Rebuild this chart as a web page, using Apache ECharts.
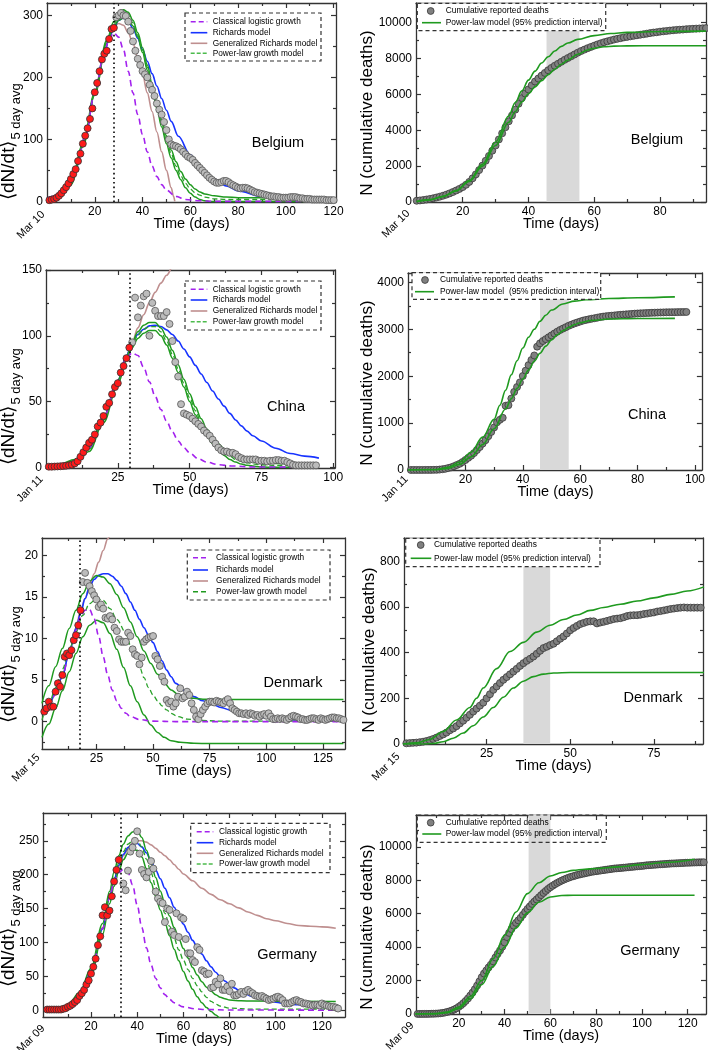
<!DOCTYPE html>
<html><head><meta charset="utf-8"><title>Epidemic growth models</title>
<script src="https://cdn.jsdelivr.net/npm/echarts@6.0.0/dist/echarts.min.js"></script>
<style>html,body{margin:0;padding:0;background:#fff;}#chart{width:708px;height:1050px;}</style>
</head><body><div id="chart"></div>
<script>
const FF = '"Liberation Sans", Arial, Helvetica, sans-serif';

// ================= DATA =================
// ---- Belgium (day 0 = Mar 10) ----
const belFitStart = 1;
const belFit = [2,3,4,6,9,13,18,23,29,36,44,52,65,77,93,106,118,133,150,176,191,210,229,238,243,262,278,280];
const belLaterStart = 29;
const belLater = [297,300,304,300,299,290,275,258,243,230,220,210,205,200,188,180,170,158,148,140,128,115,100,92,90,89,87,84,80,76,72,70,67,62,58,54,50,46,42,38,35,32,30,30,31,33,33,31,28,26,24,22,21,22,22,21,19,17,15,14,13,12,11,10,9,8,8,7,7,6,6,6,6,7,7,7,6,5,5,4,4,4,3,3,3,3,3,3,2,2,2,2];
const belLogistic = [[0,5],[4,9],[8,22],[12,50],[16,103],[20,175],[24,240],[26,262],[28,272],[30,265],[32,245],[34,210],[36,175],[38,140],[40,108],[42,80],[44,57],[46,40],[48,27],[50,18],[54,8],[58,3],[64,1],[70,0],[120,0]];
const belRichards = [[0,1],[4,7],[8,22],[12,52],[16,105],[20,176],[24,240],[26,262],[28,280],[30,292],[32,296],[34,291],[36,279],[38,263],[40,245],[42,226],[44,206],[46,186],[48,166],[50,147],[52,129],[55,105],[60,75],[65,52],[70,36],[75,25],[80,17],[90,8],[100,4],[110,2],[120,1]];
const belGenRichards = [[0,2],[4,7],[8,22],[12,52],[16,105],[20,176],[24,240],[26,265],[28,282],[30,287],[32,284],[34,272],[36,255],[38,232],[40,205],[42,175],[44,145],[46,112],[48,80],[50,50],[52,22],[53,8],[53.5,0]];
const belPowerLaw = [[0,1],[5,6],[10,28],[15,90],[20,174],[25,258],[28,286],[30,298],[32,303],[34,300],[36,288],[38,268],[40,244],[42,216],[44,185],[46,155],[48,126],[50,100],[52,77],[54,57],[56,41],[58,29],[60,20],[62,14],[64,10],[66,7],[70,4],[75,3],[80,3],[120,3]];
const belPowerUpper = [[0,2],[5,7],[10,30],[15,92],[20,176],[25,260],[28,290],[30,304],[32,309],[34,305],[36,292],[38,272],[40,248],[42,220],[44,190],[46,160],[48,132],[50,106],[52,83],[54,64],[56,48],[58,36],[60,27],[62,20],[64,15],[66,12],[70,9],[75,7],[80,6],[120,6]];
const belPowerLower = [[0,0],[5,5],[10,27],[15,88],[20,172],[25,255],[28,282],[30,292],[32,296],[34,294],[36,283],[38,265],[40,240],[42,212],[44,180],[46,150],[48,120],[50,93],[52,70],[54,50],[56,35],[58,22],[60,13],[62,7],[64,3],[66,1],[68,0],[120,0]];
const belCumStart = 6;
const belCum = [70,88,110,138,170,205,250,295,350,410,480,555,640,730,830,960,1120,1320,1540,1780,2030,2300,2570,2860,3150,3490,3830,4170,4500,4830,5150,5480,5800,6050,6280,6510,6720,6890,7050,7200,7350,7480,7600,7710,7820,7930,8030,8130,8230,8330,8420,8500,8580,8650,8720,8790,8850,8910,8960,9010,9060,9100,9140,9180,9210,9240,9270,9300,9330,9360,9390,9420,9450,9470,9500,9520,9540,9560,9580,9600,9610,9620,9640,9650,9660,9670,9680,9690,9700];
const belCumUpper = [[6,30],[10,140],[14,320],[18,640],[22,1200],[26,2100],[30,3350],[34,4800],[36,5550],[38,6200],[40,6800],[42,7300],[44,7750],[46,8100],[48,8420],[50,8680],[52,8870],[55,9070],[60,9280],[65,9400],[70,9460],[80,9510],[94,9530]];
const belCumLower = [[6,20],[10,120],[14,300],[18,610],[22,1150],[26,2000],[30,3150],[34,4450],[36,5050],[38,5580],[40,6040],[42,6420],[44,6770],[46,7100],[48,7400],[50,7680],[52,7920],[55,8240],[58,8480],[60,8580],[63,8660],[66,8695],[70,8710],[80,8715],[94,8715]];

// ---- China (day 0 = Jan 11) ----
const chnFitStart = 1;
const chnFit = [0.5,0.5,0.6,0.7,0.8,1,1.2,1.5,2,3,4.6,8,11.5,15,18.6,21,25,31,34,39,46,49,55.5,61,64,72,77,83,91];
const chnLaterStart = 30;
const chnLater = [95,129,114,123,130,132,100,125,119,115,115,115,118,109,96,80,69,48,41,40,39,37,35,33,31,28,26,24,21,18,15,13,12,12,11,11,10,8,7,6,6,6,6,6,5,5,5,4.5,5,5,5.5,5.5,5,5,4,3,2,1.5,1.5,1.5,1.5,1.5,1.5,1.5,1.5];
const chnLogistic = [[0,0.3],[5,1],[10,4],[15,15],[20,38],[25,66],[28,83],[30,87],[32,85],[34,76],[36,65],[38,54],[40,44],[42,35],[44,27],[46,20],[48,15],[50,11],[53,6.5],[56,4],[60,2],[65,1],[72,0.3],[95,0]];
const chnRichards = [[0,1],[5,2],[10,4.5],[15,15],[20,38],[25,66],[28,85],[30,95],[32,101],[34,105],[36,107.5],[38,108],[40,107],[42,104.5],[44,101],[46,96],[48,90],[50,84],[52,77.5],[54,71],[56,64.5],[58,58],[60,52],[62,46.5],[64,41],[66,36],[68,31.5],[70,27.5],[72,24],[75,20],[80,14.5],[85,10.5],[90,8.5],[95,7]];
const chnGenRichards = [[0,0.5],[5,1],[10,4],[15,15],[20,38],[25,66],[28,84],[30,95],[32,106],[34,116],[36,125],[38,133],[40,140],[42,146],[44,152],[46,157]];
const chnPowerLaw = [[0,1],[5,1.8],[10,4.5],[15,14],[20,36],[25,64.5],[28,82.5],[30,93],[32,100.5],[34,105],[36,107],[38,107],[40,103],[42,96],[44,86],[46,75],[48,64],[50,53],[52,43],[54,34],[56,26.5],[58,20.5],[60,15.5],[62,11.5],[64,8.5],[66,6],[68,4.5],[70,3.5],[74,2],[80,1.5],[94,1]];
const chnPowerUpper = [[0,1.5],[5,2.5],[10,6],[15,16],[20,38],[25,66],[28,84],[30,95],[32,103],[34,108],[36,110],[38,110],[40,106],[42,99],[44,89],[46,78],[48,67],[50,56],[52,46],[54,37],[56,29],[58,23],[60,18],[62,14],[64,11],[66,8.5],[68,7],[70,5.5],[74,4],[80,3],[94,2.5]];
const chnPowerLower = [[0,0.5],[5,1],[10,3],[15,12],[20,34],[25,63],[28,81],[30,91],[32,98],[34,102],[36,104],[38,104],[40,100],[42,93],[44,83],[46,72],[48,61],[50,50],[52,40],[54,31],[56,24],[58,18],[60,13],[62,9],[64,6],[66,4],[68,2.5],[70,1.5],[74,0.5],[78,0],[94,0]];
const chnCumStart = 1;
const chnCum = [1,1,1,1,1,2,2,2,3,4,9,17,25,41,56,80,106,132,170,213,259,304,361,425,490,563,636,722,811,908,1016,1070,1113,1370,1383,1523,1665,1770,1868,2004,2118,2236,2345,2442,2630,2700,2750,2790,2830,2870,2910,2950,2985,3015,3045,3075,3100,3125,3145,3165,3185,3200,3212,3225,3236,3248,3260,3270,3278,3285,3290,3296,3302,3308,3313,3318,3323,3328,3333,3337,3340,3343,3346,3349,3352,3354,3356,3358,3360,3362,3363,3364,3365,3366,3367,3368,3369];
const chnCumUpper = [[0,0],[10,10],[14,60],[18,170],[22,380],[26,700],[30,1080],[32,1380],[34,1700],[36,2030],[38,2330],[40,2600],[42,2830],[44,3000],[46,3170],[48,3300],[50,3410],[54,3540],[58,3600],[62,3630],[70,3655],[80,3672],[93,3690]];
const chnCumLower = [[0,0],[10,5],[14,35],[18,120],[22,280],[26,540],[30,880],[34,1300],[36,1520],[38,1740],[40,1940],[42,2130],[44,2320],[46,2490],[48,2640],[50,2770],[52,2880],[54,2970],[56,3040],[58,3100],[60,3140],[64,3190],[70,3220],[80,3230],[93,3232]];

// ---- Denmark (day 0 = Mar 15) ----
const dnkFitStart = 2;
const dnkFit = [1.2,1.6,2.4,1.8,1.8,3.6,4.6,4.2,5.6,7.8,8.2,8.0,8.6,9.8,10.4,11.6,13.4];
const dnkLaterStart = 19;
const dnkLater = [16.8,17.9,16.7,16.3,15.7,15.2,14.7,13.8,14.1,13.6,12.5,12.4,12.7,12.3,11.3,10.9,9.9,9.6,9.6,9.6,10.7,10.3,8.7,8.1,7.9,6.9,7.7,9.6,9.9,10.1,10.2,10.3,7.9,7.5,6.7,5.4,4.8,2.6,2.2,2.4,1.8,2.2,3.0,4.0,2.8,3.0,3.6,3.2,2.2,1.4,0.6,0.3,0.9,1.4,1.8,2.2,2.4,2.4,2.3,2.5,2.4,2.3,2.2,2.5,2.7,2.2,1.6,1.4,1.2,1.0,1.0,0.9,1.0,0.8,1.0,0.9,0.7,0.8,0.6,0.8,0.9,0.7,1.0,0.6,0.3,0.3,0.4,0.3,0.4,0.3,0.2,0.4,0.6,0.7,0.6,0.5,0.3,0.3,0.2,0.2,0.3,0.4,0.4,0.3,0.2,0.4,0.3,0.2,0.3,0.4,0.5,0.5,0.4,0.4,0.3,0.2];
const dnkLogistic = [[1,1.0],[4,1.9],[7,3.3],[10,5.4],[13,8.2],[16,11.0],[18,12.6],[20,13.4],[22,13.5],[24,12.4],[26,10.3],[28,7.8],[30,5.6],[32,3.8],[34,2.5],[36,1.6],[38,1.0],[40,0.6],[44,0.25],[50,0.05],[60,0],[134,0]];
const dnkRichards = [[1,1.2],[4,2.0],[7,3.5],[10,5.5],[13,8.3],[16,11.2],[18,13.0],[20,14.8],[22,16.2],[24,17.1],[26,17.6],[28,17.8],[30,17.8],[32,17.5],[34,17.0],[36,16.3],[38,15.4],[40,14.4],[42,13.4],[44,12.3],[46,11.3],[48,10.4],[50,9.5],[52,8.4],[54,7.3],[56,6.2],[58,5.4],[60,4.6],[64,3.7],[68,3.0],[72,2.5],[76,2.1],[80,1.7],[85,1.3],[90,0.9],[95,0.6],[105,0.3],[120,0.1],[134,0.05]];
const dnkGenRichards = [[1,1.0],[4,1.9],[7,3.4],[10,5.5],[13,8.3],[16,11.3],[18,13.4],[20,14.8],[22,16.3],[24,17.8],[26,19.2],[28,20.6],[30,22.0],[32,23.4]];
const dnkPowerLaw = [[1,0.2],[4,2.0],[7,4.1],[10,6.3],[13,8.6],[16,10.8],[19,12.8],[22,14.2],[25,14.8],[28,14.6],[31,13.6],[34,12.3],[38,10.7],[40,9.2],[42,7.9],[44,6.6],[46,5.3],[48,4.1],[50,3.2],[52,2.5],[54,1.9],[56,1.4],[58,1.0],[61,0.6],[65,0.3],[70,0.15],[80,0.05],[134,0.05]];
const dnkPowerUpper = [[1,2.2],[4,4.3],[7,6.6],[10,8.8],[13,11.2],[16,13.4],[19,15.4],[22,16.9],[25,17.6],[28,17.4],[31,16.6],[34,15.3],[37,13.7],[40,12.0],[43,10.2],[46,8.5],[49,7.0],[52,5.7],[55,4.6],[58,3.8],[61,3.3],[64,3.0],[68,2.8],[72,2.7],[80,2.65],[134,2.65]];
const dnkPowerLower = [[1,-1.9],[4,-0.3],[7,1.6],[10,3.7],[13,6.0],[16,8.2],[19,10.2],[22,11.6],[25,12.2],[28,11.9],[31,10.6],[34,8.7],[37,6.5],[40,4.3],[43,2.4],[46,0.8],[49,-0.4],[52,-1.3],[55,-1.9],[58,-2.3],[62,-2.5],[68,-2.62],[75,-2.65],[134,-2.65]];
const dnkCumStart = 0;
const dnkCum = [2,3,4,5,6,8,10,13,17,22,28,35,42,50,60,68,78,90,102,115,128,142,155,168,181,200,218,237,252,267,281,293,305,317,329,342,354,364,373,383,395,408,420,426,433,439,450,461,471,484,498,508,517,525,530,535,537,537,528,532,535,539,543,547,549,551,555,560,563,564,564,566,569,571,574,576,580,582,585,588,591,593,595,597,598,597,597,597,597,597];
const dnkCumUpper = [[0,0],[4,5],[8,20],[12,55],[16,105],[20,160],[22,200],[24,245],[28,330],[32,405],[36,445],[40,490],[44,520],[48,545],[52,565],[56,585],[60,598],[65,612],[70,626],[75,640],[80,655],[85,670],[90,688]];
const dnkCumLower = [[0,0],[6,0],[9,2],[12,10],[15,25],[18,48],[21,80],[24,118],[27,160],[30,205],[33,245],[36,275],[39,295],[42,306],[45,311],[50,313],[60,313],[90,313]];

// ---- Germany (day 0 = Mar 09) ----
const deuFitStart = 1;
const deuFit = [1,1,1,1,1,1,1,2,3,5,6.5,9,12,15,21,25,30,38,44,54,64,76,96,109,140,152,140,147,168,190,207,222];
const deuLaterStart = 34;
const deuLater = [187,177,206,234,240,250,264,231,207,201,196,204,220,209,175,165,160,158,130,150,148,116,111,143,108,137,135,105,84,84,74,71,93,89,59,57,53,54,33,34,42,38,47,30,30,35,28,39,22,22,24,27,24,28,30,27,25,22,21,20,21,19,17,15,16,17,19,20,18,15,10,10,10,12,14,15,13,12,10,10,9,8,7,8,8,7,10,8,7,6,5,5,4,2.5];
const deuLogistic = [[0,1],[5,2],[10,6],[15,22],[20,55],[25,120],[28,165],[30,190],[32,203],[34,208],[36,204],[38,185],[40,155],[42,122],[44,92],[46,67],[48,47],[50,33],[52,23],[54,16],[56,11],[60,5],[65,2],[70,1],[80,0.3],[125,0]];
const deuRichards = [[0,1],[5,2],[10,7],[15,23],[20,56],[25,120],[28,166],[30,192],[32,214],[34,230],[36,240],[38,245],[40,246],[42,241],[44,232],[46,220],[48,207],[50,194],[52,180],[54,166],[56,152],[58,139],[60,127],[62,115],[64,103],[66,93],[68,83],[70,73],[72,64],[74,56],[76,49],[78,43],[80,38],[82,33],[85,27],[90,20],[95,15],[100,12],[105,9],[110,8],[115,6],[120,5],[125,4]];
const deuGenRichards = [[0,1],[5,2],[10,7],[15,23],[20,56],[25,122],[28,168],[30,192],[32,212],[34,228],[36,240],[38,247],[40,250],[42,250],[44,248],[46,244],[48,239],[50,233],[52,228],[54,222],[56,215],[58,208],[60,201],[64,191],[68,180],[72,171],[76,163],[80,157],[84,151],[88,145],[92,140],[96,135],[100,132],[105,128],[110,125],[115,124],[120,123],[126,121]];
const deuPowerLaw = [[0,0.5],[5,1.5],[10,6.5],[15,23],[20,57],[25,120],[28,166],[30,194],[32,217],[34,234],[36,245],[38,250],[40,251],[42,241],[44,223],[46,203],[48,182],[50,162],[52,143],[54,124],[56,106],[58,89],[60,74],[62,60],[64,47],[66,36],[68,27],[70,19],[72,13],[74,9],[76,6],[80,3],[90,1.5],[126,1.5]];
const deuPowerUpper = [[0,1],[5,2],[10,8],[15,26],[20,62],[25,128],[28,175],[30,204],[32,228],[34,245],[36,257],[38,263],[40,265],[42,255],[44,236],[46,217],[48,196],[50,176],[52,157],[54,139],[56,122],[58,106],[60,91],[62,77],[64,63],[66,52],[68,42],[70,34],[72,28],[74,23],[76,19],[78,17],[80,15],[85,14],[90,13.5],[126,13]];
const deuPowerLower = [[0,0],[5,1],[10,5],[15,20],[20,52],[25,112],[28,157],[30,183],[32,205],[34,222],[36,232],[38,237],[40,236],[42,226],[44,209],[46,188],[48,168],[50,148],[52,129],[54,110],[56,90],[58,73],[60,57],[62,43],[64,31],[66,20],[68,11],[70,4],[72,-2],[74,-7],[76,-12],[78,-16]];
const deuCumStart = 1;
const deuCum = [2,2,3,3,5,6,9,12,16,24,30,45,65,90,125,160,210,270,340,430,530,650,780,930,1100,1280,1480,1700,1950,2200,2420,2600,2780,2950,3150,3380,3600,3800,4020,4280,4600,4850,5080,5280,5450,5600,5750,5930,6110,6280,6430,6580,6720,6850,6980,7110,7240,7360,7480,7580,7670,7760,7840,7910,7980,8040,8100,8150,8200,8240,8280,8320,8350,8380,8410,8440,8470,8500,8520,8540,8560,8580,8600,8620,8640,8660,8680,8700,8710,8720,8735,8750,8760,8775,8790,8800,8815,8830,8840,8855,8870,8890,8900,8910,8920,8930,8940,8950,8960,8970,8980,8990,9000,9005,9010,9020,9025,9030,9040,9045,9050,9055,9060,9065,9070,9070,9075];
const deuCumUpper = [[1,0],[10,20],[15,120],[20,420],[25,1050],[30,2000],[35,3300],[40,4700],[45,6100],[50,7200],[55,7850],[60,8250],[65,8460],[70,8590],[75,8660],[80,8700],[90,8800],[100,8930],[110,9060],[123,9250]];
const deuCumLower = [[1,0],[10,10],[15,80],[20,330],[25,900],[30,1750],[35,2850],[40,4000],[45,5150],[50,6050],[55,6680],[60,7000],[65,7090],[70,7100],[123,7100]];

// fit-window end (dotted line) and forecast window (grey band), days
const fitEndDays = [28, 29, 17.7, 32.7];
const bandRanges = [[45.5, 55.5], [46, 56], [36, 44], [50.5, 60]];

// tick labels
const tickSets = [
  {xM:[20,40,60,80,100,120], xm:[10,30,50,70,90,110], yM:[0,100,200,300], ym:[50,150,250]},
  {xM:[20,40,60,80], xm:[10,30,50,70,90], yM:[0,2000,4000,6000,8000,10000], ym:[1000,3000,5000,7000,9000]},
  {xM:[25,50,75,100], xm:[12.5,37.5,62.5,87.5], yM:[0,50,100,150], ym:[25,75,125]},
  {xM:[20,40,60,80,100], xm:[10,30,50,70,90], yM:[0,1000,2000,3000,4000], ym:[500,1500,2500,3500]},
  {xM:[25,50,75,100,125], xm:[12.5,37.5,62.5,87.5,112.5], yM:[0,5,10,15,20], ym:[-2.5,2.5,7.5,12.5,17.5]},
  {xM:[25,50,75], xm:[12.5,37.5,62.5,87.5], yM:[0,200,400,600,800], ym:[100,300,500,700]},
  {xM:[20,40,60,80,100,120], xm:[10,30,50,70,90,110], yM:[0,50,100,150,200,250], ym:[25,75,125,175,225,275]},
  {xM:[20,40,60,80,100,120], xm:[10,30,50,70,90,110], yM:[0,2000,4000,6000,8000,10000], ym:[1000,3000,5000,7000,9000,11000]}
];
const countries = ['Belgium','China','Denmark','Germany'];
const startDates = ['Mar 10','Jan 11','Mar 15','Mar 09'];
const leftLegend = ['Classical logistic growth','Richards model','Generalized Richards model','Power-law growth model'];
const rightLegend = ['Cumulative reported deaths','Power-law model (95% prediction interval)'];

// ================= LAYOUT =================
const layout = [
  {left:47, top:3, width:289, height:199, xr:[0,121], yr:[-1,320]},
  {left:416, top:3, width:290, height:199, xr:[5.8,94], yr:[0,11100]},
  {left:46, top:270, width:289, height:198, xr:[0,100.6], yr:[-0.5,150]},
  {left:408, top:273, width:295, height:197, xr:[0,102.4], yr:[0,4200]},
  {left:42, top:538, width:303, height:211, xr:[1,134.7], yr:[-3.3,22.1]},
  {left:404, top:538, width:299, height:206, xr:[0.3,89.7], yr:[0,902]},
  {left:43, top:813, width:302, height:204, xr:[-0.8,130], yr:[-10,291]},
  {left:416, top:815, width:290, height:199, xr:[1.3,128], yr:[0,11900]}
];

const COL = {purple:'#a322ee', blue:'#1733ff', rosy:'#bf8f8f', green:'#1f9a1f', greenDash:'#2aa12a',
  greenLeg:'#4cbb4c', red:'#ff1a1a', grey:'#bcbcbc', greyEdge:'#555', cum:'#808080', cumEdge:'#383838',
  band:'#d9d9d9', axis:'#333'};

const daily = (start, vals) => vals.map((v, i) => [start + i, v]);
const plain = v => String(v);

const grids = [], xAxes = [], yAxes = [], series = [];
layout.forEach((L, i) => {
  grids.push({left:L.left, top:L.top, width:L.width, height:L.height, containLabel:false});
  const T = tickSets[i];
  const lineSt = {color:COL.axis, width:1.3};
  const tickSt = {color:COL.axis, width:1.2};
  const bx = {type:'value', gridIndex:i, min:L.xr[0], max:L.xr[1], splitLine:{show:false}};
  const by = {type:'value', gridIndex:i, min:L.yr[0], max:L.yr[1], splitLine:{show:false}};
  const lab = {fontSize:12, fontFamily:FF, color:'#000', formatter:plain};
  const hiddenLine = {show:false, onZero:false};
  const shownLine = {show:true, onZero:false, lineStyle:lineSt};
  xAxes.push(Object.assign({}, bx, {position:'bottom', axisLine:shownLine,
    axisTick:{show:true, inside:true, length:5, customValues:T.xM, lineStyle:tickSt},
    axisLabel:Object.assign({show:true, customValues:T.xM, margin:4}, lab)}));
  xAxes.push(Object.assign({}, bx, {position:'bottom', axisLine:hiddenLine,
    axisTick:{show:true, inside:true, length:3, customValues:T.xm, lineStyle:tickSt}, axisLabel:{show:false}}));
  xAxes.push(Object.assign({}, bx, {position:'top', axisLine:shownLine,
    axisTick:{show:true, inside:true, length:5, customValues:T.xM, lineStyle:tickSt}, axisLabel:{show:false}}));
  xAxes.push(Object.assign({}, bx, {position:'top', axisLine:hiddenLine,
    axisTick:{show:true, inside:true, length:3, customValues:T.xm, lineStyle:tickSt}, axisLabel:{show:false}}));
  yAxes.push(Object.assign({}, by, {position:'left', axisLine:shownLine,
    axisTick:{show:true, inside:true, length:5, customValues:T.yM, lineStyle:tickSt},
    axisLabel:Object.assign({show:true, customValues:T.yM, margin:4}, lab)}));
  yAxes.push(Object.assign({}, by, {position:'left', axisLine:hiddenLine,
    axisTick:{show:true, inside:true, length:3, customValues:T.ym, lineStyle:tickSt}, axisLabel:{show:false}}));
  yAxes.push(Object.assign({}, by, {position:'right', axisLine:shownLine,
    axisTick:{show:true, inside:true, length:5, customValues:T.yM, lineStyle:tickSt}, axisLabel:{show:false}}));
  yAxes.push(Object.assign({}, by, {position:'right', axisLine:hiddenLine,
    axisTick:{show:true, inside:true, length:3, customValues:T.ym, lineStyle:tickSt}, axisLabel:{show:false}}));
});

function lineS(p, data, color, width, type, z) {
  return {type:'line', xAxisIndex:4*p, yAxisIndex:4*p, data, symbol:'none', showSymbol:false,
    smooth:0.35, smoothMonotone:'x', clip:true, silent:true, z:z || 2,
    lineStyle:{color, width, type:type || 'solid'}};
}
function dotS(p, data, fill, edge, z) {
  return {type:'scatter', xAxisIndex:4*p, yAxisIndex:4*p, data, symbol:'circle', symbolSize:7, clip:true,
    silent:true, z, itemStyle:{color:fill, borderColor:edge, borderWidth:0.8, opacity:1}};
}

const panelSets = [
  {fit:daily(belFitStart, belFit), later:daily(belLaterStart, belLater), lo:belLogistic, ri:belRichards, gr:belGenRichards,
   pl:belPowerLaw, up:belPowerUpper, dn:belPowerLower, cum:daily(belCumStart, belCum), cu:belCumUpper, cl:belCumLower},
  {fit:daily(chnFitStart, chnFit), later:daily(chnLaterStart, chnLater), lo:chnLogistic, ri:chnRichards, gr:chnGenRichards,
   pl:chnPowerLaw, up:chnPowerUpper, dn:chnPowerLower, cum:daily(chnCumStart, chnCum), cu:chnCumUpper, cl:chnCumLower},
  {fit:daily(dnkFitStart, dnkFit), later:daily(dnkLaterStart, dnkLater), lo:dnkLogistic, ri:dnkRichards, gr:dnkGenRichards,
   pl:dnkPowerLaw, up:dnkPowerUpper, dn:dnkPowerLower, cum:daily(dnkCumStart, dnkCum), cu:dnkCumUpper, cl:dnkCumLower},
  {fit:daily(deuFitStart, deuFit), later:daily(deuLaterStart, deuLater), lo:deuLogistic, ri:deuRichards, gr:deuGenRichards,
   pl:deuPowerLaw, up:deuPowerUpper, dn:deuPowerLower, cum:daily(deuCumStart, deuCum), cu:deuCumUpper, cl:deuCumLower}
];

panelSets.forEach((D, k) => {
  const pl = 2*k, pr = 2*k + 1;
  // left panel: daily deaths and models
  series.push(lineS(pl, D.gr, COL.rosy, 1.6));
  series.push(lineS(pl, D.ri, COL.blue, 1.6));
  series.push(lineS(pl, D.up, COL.green, 1.5));
  series.push(lineS(pl, D.dn, COL.green, 1.5));
  series.push(lineS(pl, D.pl, COL.greenDash, 1.3, [5,3]));
  series.push(lineS(pl, D.lo, COL.purple, 1.6, [6,4]));
  series.push(dotS(pl, D.later, COL.grey, COL.greyEdge, 4));
  const fitDots = dotS(pl, D.fit, COL.red, '#333', 5);
  fitDots.markLine = {silent:true, symbol:['none','none'], label:{show:false}, animation:false,
    lineStyle:{color:'#000', width:1.6, type:[1.6,3]}, data:[{xAxis:fitEndDays[k]}]};
  series.push(fitDots);
  // right panel: cumulative deaths
  const cumDots = dotS(pr, D.cum, COL.cum, COL.cumEdge, 2);
  cumDots.markArea = {silent:true, itemStyle:{color:COL.band}, label:{show:false},
    data:[[{xAxis:bandRanges[k][0]}, {xAxis:bandRanges[k][1]}]]};
  series.push(cumDots);
  series.push(lineS(pr, D.cu, COL.green, 1.6, 'solid', 3));
  series.push(lineS(pr, D.cl, COL.green, 1.6, 'solid', 3));
});

// ================= TEXT / LEGENDS (graphic) =================
const gfx = [];
function txt(x, y, text, size, align, rot) {
  gfx.push({type:'text', x, y, z:100, rotation:rot || 0, silent:true,
    style:{text, fontSize:size, fontFamily:FF, fill:'#000', align:align || 'center', verticalAlign:'middle'}});
}
function box(x, y, w, h, fill) {
  gfx.push({type:'rect', z:99, silent:true, shape:{x, y, width:w, height:h},
    style:{fill, stroke:'#333', lineWidth:1.2, lineDash:[4,3]}});
}
function seg(x1, x2, y, color, w, dash) {
  gfx.push({type:'line', z:101, silent:true, shape:{x1, y1:y, x2, y2:y},
    style:{stroke:color, lineWidth:w, lineDash:dash || null}});
}
function dot(cx, cy) {
  gfx.push({type:'circle', z:101, silent:true, shape:{cx, cy, r:3.4},
    style:{fill:COL.cum, stroke:COL.cumEdge, lineWidth:0.8}});
}

const yTitleLeft = [[11,200],[11,465],[11,723],[11,987]];
const yTitleRight = [[367,113],[367,383],[369,650],[367,927]];
const countryPos = [[278,143],[657,140],[286,407],[647,415],[293,683],[653,698],[287,955],[650,951]];
const datePos = [[31,225],[396,224],[30,489],[395,489],[26,768],[386,767],[31,1039],[400,1036]];
layout.forEach((L, i) => {
  txt(L.left + L.width/2, L.top + L.height + 22, 'Time (days)', 14.5);
  txt(countryPos[i][0], countryPos[i][1], countries[i >> 1], 14.5);
  txt(datePos[i][0], datePos[i][1], startDates[i >> 1], 11, 'center', Math.PI/4);
});
for (let k = 0; k < 4; k++) {
  gfx.push({type:'text', x:yTitleLeft[k][0], y:yTitleLeft[k][1], z:100, rotation:Math.PI/2, silent:true,
    style:{text:'{a|⟨dN/dt⟩}{b|5 day avg}', align:'left', verticalAlign:'middle',
      rich:{a:{fontSize:19, fontFamily:FF, fill:'#000', verticalAlign:'bottom', padding:[0,0,5,0]},
            b:{fontSize:13, fontFamily:FF, fill:'#000', verticalAlign:'bottom', padding:[0,0,0,1]}}}});
  txt(yTitleRight[k][0], yTitleRight[k][1], 'N (cumulative deaths)', 17, 'center', Math.PI/2);
}

const leftLeg = [
  {box:[185,13,136,48], rows:[21.7,32.7,43.3,53.3], ix:[190.7,207.3], tx:212.7, plDash:[4,2], plCol:COL.greenLeg},
  {box:[185,281,136,49], rows:[289.3,300,311,321.7], ix:[190.7,207.3], tx:212.7, plDash:[4,2], plCol:COL.greenLeg},
  {box:[187.3,550,142.7,50], rows:[557.7,570,581,591.7], ix:[193,208], tx:216, plDash:[5,3], plCol:COL.green},
  {box:[190.7,823.3,139.3,49.4], rows:[831.7,842.7,853.3,864], ix:[196.7,213.3], tx:219, plDash:[4,2], plCol:COL.greenLeg}
];
leftLeg.forEach(G => {
  box(G.box[0], G.box[1], G.box[2], G.box[3], '#fff');
  const styles = [[COL.purple,[5,3]],[COL.blue,null],[COL.rosy,null],[G.plCol,G.plDash]];
  styles.forEach((s, r) => {
    seg(G.ix[0], G.ix[1], G.rows[r], s[0], 1.6, s[1]);
    txt(G.tx, G.rows[r], leftLegend[r], 8.3, 'left');
  });
});
const rightLeg = [
  {box:[417.3,3.3,188.4,27.4], rows:[11,22.7], dx:430.7, ix:[422,441], tx:445.7, fill:'#fff', t2:rightLegend[1]},
  {box:[412,272.7,188.7,26.6], rows:[280,291.7], dx:425, ix:[415,434], tx:440, fill:'#fff', t2:'Power-law model  (95% prediction interval)'},
  {box:[405.7,538.3,194.3,28.4], rows:[545,558.3], dx:420.7, ix:[410.7,431.3], tx:434, fill:'#fff', t2:rightLegend[1]},
  {box:[417.3,815,189,27.3], rows:[822.7,834], dx:430.7, ix:[422.3,441.3], tx:445.7, fill:'rgba(255,255,255,0)', t2:rightLegend[1]}
];
rightLeg.forEach(G => {
  box(G.box[0], G.box[1], G.box[2], G.box[3], G.fill);
  dot(G.dx, G.rows[0]);
  txt(G.tx, G.rows[0], rightLegend[0], 8.4, 'left');
  seg(G.ix[0], G.ix[1], G.rows[1], COL.green, 1.6, null);
  txt(G.tx, G.rows[1], G.t2, 8.4, 'left');
});

const chart = echarts.init(document.getElementById('chart'), null, {renderer:'canvas'});
chart.setOption({
  backgroundColor:'#fff',
  animation:false,
  grid:grids,
  xAxis:xAxes,
  yAxis:yAxes,
  series:series,
  graphic:{elements:gfx}
});
</script>
</body></html>
